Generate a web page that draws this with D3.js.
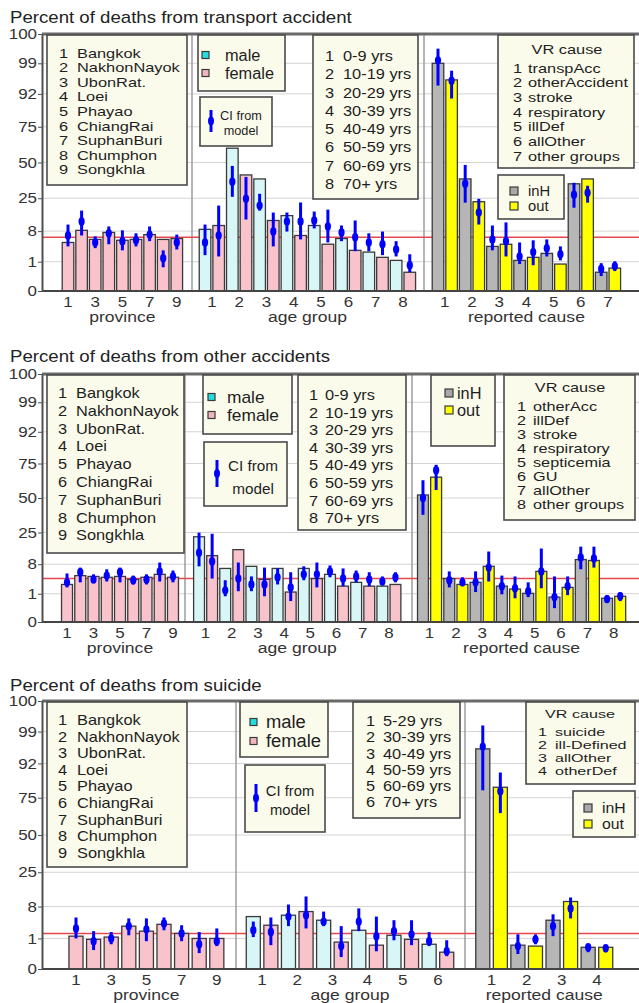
<!DOCTYPE html>
<html><head><meta charset="utf-8">
<script src="https://cdn.jsdelivr.net/npm/d3@7"></script>
<style>
body{margin:0;background:#fff;}
svg{display:block;font-family:"Liberation Sans",Arial,sans-serif;}
</style></head><body>
<svg id="c" width="639" height="1003"></svg>
<script>
// ---------- axis ticks ----------
const yTicks=[0,1,8,25,50,75,92,99,100];
const tickFrac=[0,0.114,0.233,0.361,0.5,0.639,0.767,0.886,1];

// ---------- category labels ----------
const provinces=["Bangkok","NakhonNayok","UbonRat.","Loei","Phayao","ChiangRai","SuphanBuri","Chumphon","Songkhla"];
const ageGroups8=["0-9 yrs","10-19 yrs","20-29 yrs","30-39 yrs","40-49 yrs","50-59 yrs","60-69 yrs","70+ yrs"];
const ageGroups6=["5-29 yrs","30-39 yrs","40-49 yrs","50-59 yrs","60-69 yrs","70+ yrs"];
const causesTransport=["transpAcc","otherAccident","stroke","respiratory","illDef","allOther","other groups"];
const causesOther=["otherAcc","illDef","stroke","respiratory","septicemia","GU","allOther","other groups"];
const causesSuicide=["suicide","ill-Defined","allOther","otherDef"];

// ---------- transport accident ----------
const trAvg=6.6;
const trProv=[5.4,8.4,6.1,7.7,5.9,6.1,7.2,6.1,6.3];
const trProvCI=[[4.5,7.0,11.4],[7.0,13.0,18.6],[4.1,5.4,6.8],[5.0,7.5,10.4],[3.6,5.7,8.4],[4.5,5.9,7.5],[5.7,7.2,10.4],[0.81,1.8,3.6],[3.8,5.4,7.2]];
const trMale=[8.9,60,38.5,16.0,10.9,6.3,3.2,1.3];
const trFemale=[10.9,41.3,13.5,7.0,5.0,3.6,2.0,0.64];
const trMaleCI=[[2.5,5.4,11.4],[26.0,36.5,47.6],[18.6,21.2,28.1],[7.9,13.0,17.6],[9.4,13.5,18.1],[5.7,7.7,10.9],[3.4,5.4,7.5],[2.2,3.8,5.7]];
const trFemaleCI=[[2.2,7.0,21.2],[14.0,24.7,39.9],[4.5,7.9,17.6],[6.1,13.0,22.8],[5.4,10.4,19.1],[3.4,6.6,13.5],[2.5,5.0,7.9],[0.64,0.88,2.7]];
const trInH=[99.0,38.5,4.5,1.3,2.9,35.1,0.64];
const trOut=[95.2,23.2,5.0,2.0,0.92,38.5,0.78];
const trInHCI=[[93.9,99.1,99.5],[22.7,35.1,48.3],[3.6,6.1,10.9],[0.92,2.2,5.4],[2.2,4.1,6.1],[20.1,27.4,35.8],[0.51,0.75,0.95]];
const trOutCI=[[89.6,95.0,97.3],[11.4,17.6,24.7],[2.2,5.7,12.5],[0.88,3.2,5.9],[1.3,2.7,4.5],[22.7,28.8,33.7],[0.68,0.85,1.1]];

// ---------- other accidents ----------
const oaAvg=4.6;
const oaProv=[3.2,5.3,5.1,4.9,5.1,4.4,4.9,5.6,4.9];
const oaProvCI=[[2.5,3.7,5.8],[3.7,6.1,7.2],[3.5,4.4,5.6],[3.9,5.3,6.8],[3.7,6.1,7.2],[3.2,4.2,5.3],[3.2,4.4,5.6],[3.9,6.3,8.9],[3.7,5.1,6.5]];
const oaMale=[22.7,7.0,7.5,7.0,7.0,5.6,3.7,2.8];
const oaFemale=[12.6,15.8,4.4,1.4,4.6,2.8,2.8,3.2];
const oaMaleCI=[[7.5,14.2,24.9],[0.91,1.8,4.2],[1.6,3.2,5.1],[3.2,4.9,7.0],[4.2,5.6,7.5],[4.9,6.3,7.7],[3.7,5.1,6.5],[3.0,3.9,5.1]];
const oaFemaleCI=[[4.6,9.5,24.3],[1.6,4.6,8.9],[0.91,3.2,7.2],[0.74,2.5,6.1],[2.5,5.6,8.9],[2.8,4.6,7.0],[2.8,4.4,6.1],[3.7,4.9,6.1]];
const oaInH=[52.2,4.6,3.7,2.8,1.1,0.88,10.5,0.84];
const oaOut=[65.1,3.2,7.5,2.1,6.3,2.5,10.0,0.91];
const oaInHCI=[[37.8,50,62.9],[2.5,4.2,6.3],[1.4,3.7,6.3],[0.98,2.8,5.3],[0.88,1.6,3.7],[0.49,0.88,5.1],[6.8,11.6,17.4],[0.67,0.81,0.95]];
const oaOutCI=[[55.8,70.1,74.1],[2.8,3.7,4.9],[3.9,7.2,14.8],[0.84,2.3,5.1],[2.3,6.3,16.4],[0.95,2.8,5.1],[7.2,11.1,17.4],[0.74,0.91,1.35]];

// ---------- suicide ----------
const suAvg=2.1;
const suProv=[1.5,0.97,1.3,3.7,2.6,4.1,2.1,1.0,1.0];
const suProvCI=[[1.0,3.2,5.6],[0.62,0.91,2.6],[0.81,1.0,2.4],[1.7,3.7,5.4],[0.91,3.0,5.4],[2.8,4.3,5.6],[0.91,2.1,3.9],[0.52,0.81,2.4],[0.75,0.91,3.2]];
const suMale=[5.8,6.1,5.0,2.8,1.7,0.81];
const suFemale=[3.9,6.9,0.88,0.78,0.97,0.55];
const suMaleCI=[[1.3,2.8,4.7],[3.7,5.8,9.0],[3.7,4.7,6.9],[2.6,4.7,7.6],[0.94,2.6,5.0],[0.75,0.91,2.4]];
const suFemaleCI=[[0.78,2.4,5.6],[3.2,6.1,13.0],[0.39,0.75,3.7],[0.58,1.5,5.8],[0.78,1.9,5.0],[0.42,0.58,0.94]];
const suInH=[95.2,0.78,5.0,0.71];
const suOut=[80.2,0.75,10.5,0.71];
const suInHCI=[[78.7,95.7,99.2],[0.49,0.75,1.9],[1.5,3.7,6.3],[0.55,0.71,0.81]];
const suOutCI=[[64.7,78.2,87.5],[0.81,0.97,1.9],[5.4,7.6,12.5],[0.55,0.68,0.78]];

// ---------- layout ----------
const panels=[
 {title:"Percent of deaths from transport accident",titleY:23,top:34,bottom:291,div:[192,424],
  prov:[61.2,183.6],age:[198.2,416.6],cause:[431.2,621.6],pad:0.15,
  avg:trAvg,d:{prov:trProv,provCI:trProvCI,m:trMale,f:trFemale,mCI:trMaleCI,fCI:trFemaleCI,inH:trInH,out:trOut,inHCI:trInHCI,outCI:trOutCI},
  ages:ageGroups8,causes:causesTransport,
  L:{prov:{b:[47,35,187,185],nx:59,sx:77,y0:53,dy:14.6,fs:13,k:1.26},
     sex:{b:[198,35,285,91],qx:202,q:7,tx:225,y1:55,y2:73,fs:16},
     ci:{b:[200,97,272,146],lx:211,ly1:110,ly2:132,tcx:241,ty1:116,ty2:131,fs:12.5},
     age:{b:[313,35,418,199],nx:325,sx:343,y0:56,dy:18.3,fs:14,k:1.17},
     vr:{b:[498,35,634,168],tx:567,ty:49,nx:513,sx:528,y0:68,dy:14.7,fs:13,k:1.26},
     pl:{b:[498,175,564,219],qx:510,q:8,tx:528,y1:191,y2:206,fs:14.5}}},
 {title:"Percent of deaths from other accidents",titleY:362,top:374,bottom:622,div:[185,412],
  prov:[60.4,179.6],age:[192.5,402],cause:[416.4,626.8],pad:0.17,
  avg:oaAvg,d:{prov:oaProv,provCI:oaProvCI,m:oaMale,f:oaFemale,mCI:oaMaleCI,fCI:oaFemaleCI,inH:oaInH,out:oaOut,inHCI:oaInHCI,outCI:oaOutCI},
  ages:ageGroups8,causes:causesOther,
  L:{prov:{b:[47,375,184,553],nx:58,sx:76,y0:393,dy:17.8,fs:14,k:1.17},
     sex:{b:[203,375,292,434],qx:208,q:7,tx:227,y1:397,y2:415,fs:17},
     ci:{b:[204,442,287,506],lx:217,ly1:460,ly2:487,tcx:253,ty1:466,ty2:489,fs:15},
     age:{b:[298,375,406,530],nx:309,sx:325,y0:395,dy:17.6,fs:14,k:1.17},
     vr:{b:[504,375,635,520],tx:570,ty:388,nx:517,sx:533,y0:407,dy:14,fs:12.5,k:1.3},
     pl:{b:[431,375,495,446],qx:445,q:8,tx:457,y1:393,y2:410,fs:16}}},
 {title:"Percent of deaths from suicide",titleY:691,top:701,bottom:969,div:[236,465],
  prov:[67.2,225.6],age:[244.5,455.5],cause:[474,614.5],pad:0.2,
  avg:suAvg,d:{prov:suProv,provCI:suProvCI,m:suMale,f:suFemale,mCI:suMaleCI,fCI:suFemaleCI,inH:suInH,out:suOut,inHCI:suInHCI,outCI:suOutCI},
  ages:ageGroups6,causes:causesSuicide,
  L:{prov:{b:[47,702,187,867],nx:58,sx:77,y0:720,dy:16.6,fs:14,k:1.17},
     sex:{b:[240,702,328,757],qx:250,q:7,tx:266,y1:722,y2:741,fs:18},
     ci:{b:[245,765,325,832],lx:256,ly1:784,ly2:812,tcx:290,ty1:791,ty2:810,fs:14.5},
     age:{b:[353,702,460,818],nx:366,sx:383,y0:721,dy:16.3,fs:14,k:1.17},
     vr:{b:[526,702,635,784],tx:580,ty:714,nx:538,sx:555,y0:732,dy:13,fs:11.5,k:1.4},
     pl:{b:[573,791,635,837],qx:584,q:8,tx:602,y1:808,y2:824,fs:15.5}}}
];

const C={pink:"#f8c3cb",cyan:"#d9f6f6",gray:"#b6b6b6",yellow:"#ffff00",blue:"#0000ff",
  sqCyan:"#22dede",sqPink:"#f2b6c0",sqGray:"#a8a8a8",edge:"#3a3a3a",legFill:"#fbfbec"};
const SX=1.17;
const svg=d3.select("#c");

function stext(g,x,y,str,o={}){
  return g.append("text")
    .attr("transform",`translate(${x},${y}) scale(${o.sx??SX},1)`)
    .attr("dy",o.dy??"0.35em").attr("text-anchor",o.anchor||"start")
    .style("font-size",(o.fs||14)+"px").attr("fill",o.fill||"#1e1e1e").text(str);
}
function box(g,b){
  g.append("rect").attr("x",b[0]).attr("y",b[1]).attr("width",b[2]-b[0]).attr("height",b[3]-b[1])
   .attr("fill",C.legFill).attr("stroke","#4a4a4a").attr("stroke-width",1.6);
}
function listLegend(g,L,items,title){
  box(g,L.b);
  if(title) stext(g,L.tx,L.ty,title,{anchor:"middle",fs:L.fs,sx:L.k});
  const rows=g.append("g").selectAll("g").data(items).join("g");
  rows.each(function(s,i){
    const r=d3.select(this);
    stext(r,L.nx,L.y0+i*L.dy,String(i+1),{fs:L.fs,sx:L.k});
    stext(r,L.sx,L.y0+i*L.dy,s,{fs:L.fs,sx:L.k});
  });
}
function swatchLegend(g,L,labels,fills){
  box(g,L.b);
  [L.y1,L.y2].forEach((yy,i)=>{
    g.append("rect").attr("x",L.qx).attr("y",yy-L.q/2).attr("width",L.q).attr("height",L.q)
     .attr("fill",fills[i]).attr("stroke",C.edge).attr("stroke-width",1.2);
    stext(g,L.tx,yy,labels[i],{fs:L.fs,sx:1.02});
  });
}
function ciLegend(g,L){
  box(g,L.b);
  g.append("line").attr("x1",L.lx).attr("x2",L.lx).attr("y1",L.ly1).attr("y2",L.ly2)
   .attr("stroke",C.blue).attr("stroke-width",3);
  g.append("ellipse").attr("cx",L.lx).attr("cy",(L.ly1+L.ly2)/2).attr("rx",3).attr("ry",4.2).attr("fill",C.blue);
  stext(g,L.tcx,L.ty1,"CI from",{anchor:"middle",fs:L.fs,sx:1.02});
  stext(g,L.tcx,L.ty2,"model",{anchor:"middle",fs:L.fs,sx:1.02});
}
function styleAxisText(sel,fs){
  sel.selectAll("text").attr("transform",`scale(${SX},1)`).style("font-size",fs+"px")
    .attr("fill","#333").style("font-family",'"Liberation Sans",Arial,sans-serif');
}

function drawPanel(P){
  const g=svg.append("g");
  const x0=42,x1=639;
  const y=d3.scaleLinear().domain(yTicks).range(tickFrac.map(f=>P.bottom-f*(P.bottom-P.top)));

  // grid
  g.append("g").selectAll("line").data(yTicks.slice(1,-1)).join("line")
    .attr("x1",x0).attr("x2",x1).attr("y1",d=>y(d)).attr("y2",d=>y(d))
    .attr("stroke","#d4d4d4").attr("stroke-width",1);
  // dividers
  g.append("g").selectAll("line").data(P.div).join("line")
    .attr("x1",d=>d).attr("x2",d=>d).attr("y1",P.top).attr("y2",P.bottom)
    .attr("stroke","#9c9c9c").attr("stroke-width",1.5);
  // average line
  g.append("line").attr("x1",x0).attr("x2",x1).attr("y1",y(P.avg)).attr("y2",y(P.avg))
    .attr("stroke","#e8474c").attr("stroke-width",1.6);

  // scales
  const xp=d3.scaleBand().domain(P.d.prov.map((_,i)=>String(i+1))).range(P.prov)
    .paddingInner(P.pad).paddingOuter(P.pad/2);
  const xa=d3.scaleBand().domain(P.ages.map((_,i)=>String(i+1))).range(P.age);
  const xai=d3.scaleBand().domain(["m","f"]).range([0,xa.bandwidth()]).paddingInner(P.pad).paddingOuter(P.pad/2);
  const xc=d3.scaleBand().domain(P.causes.map((_,i)=>String(i+1))).range(P.cause);
  const xci=d3.scaleBand().domain(["inH","out"]).range([0,xc.bandwidth()]).paddingInner(P.pad).paddingOuter(P.pad/2);

  const bars=[];
  P.d.prov.forEach((v,i)=>bars.push({x:xp(String(i+1)),w:xp.bandwidth(),v,ci:P.d.provCI[i],fill:C.pink}));
  P.ages.forEach((_,i)=>{
    const k=String(i+1);
    bars.push({x:xa(k)+xai("m"),w:xai.bandwidth(),v:P.d.m[i],ci:P.d.mCI[i],fill:C.cyan});
    bars.push({x:xa(k)+xai("f"),w:xai.bandwidth(),v:P.d.f[i],ci:P.d.fCI[i],fill:C.pink});
  });
  P.causes.forEach((_,i)=>{
    const k=String(i+1);
    bars.push({x:xc(k)+xci("inH"),w:xci.bandwidth(),v:P.d.inH[i],ci:P.d.inHCI[i],fill:C.gray});
    bars.push({x:xc(k)+xci("out"),w:xci.bandwidth(),v:P.d.out[i],ci:P.d.outCI[i],fill:C.yellow});
  });

  g.append("g").selectAll("rect").data(bars).join("rect")
    .attr("x",d=>d.x).attr("width",d=>d.w).attr("y",d=>y(d.v)).attr("height",d=>y(0)-y(d.v))
    .attr("fill",d=>d.fill).attr("stroke",C.edge).attr("stroke-width",1.3);

  const ci=g.append("g").selectAll("g").data(bars).join("g");
  ci.append("line").attr("x1",d=>d.x+d.w/2).attr("x2",d=>d.x+d.w/2)
    .attr("y1",d=>y(d.ci[0])).attr("y2",d=>y(d.ci[2]))
    .attr("stroke",C.blue).attr("stroke-width",3);
  ci.append("ellipse").attr("cx",d=>d.x+d.w/2).attr("cy",d=>y(d.ci[1]))
    .attr("rx",3.1).attr("ry",4.2).attr("fill",C.blue);

  // frame lines
  g.append("line").attr("x1",x0).attr("x2",x1).attr("y1",P.top).attr("y2",P.top)
    .attr("stroke","#6a6a6a").attr("stroke-width",3);
  g.append("line").attr("x1",x0).attr("x2",x1).attr("y1",P.bottom).attr("y2",P.bottom)
    .attr("stroke","#444").attr("stroke-width",2);

  // y axis
  const ya=g.append("g").attr("transform",`translate(${x0},0)`)
    .call(d3.axisLeft(y).tickValues(yTicks).tickSize(4).tickSizeOuter(0).tickFormat(d3.format("d")));
  ya.select(".domain").attr("stroke","#505050").attr("stroke-width",2);
  ya.selectAll(".tick line").attr("stroke","#505050");
  ya.selectAll("text").attr("x",-5/SX);
  styleAxisText(ya,14.5);

  // x axes
  const ax=(scale,vals)=>{
    const a=d3.axisBottom(scale).tickSize(0).tickPadding(6);
    if(vals) a.tickValues(vals);
    const s=g.append("g").attr("transform",`translate(0,${P.bottom})`).call(a);
    s.select(".domain").remove();
    styleAxisText(s,14.5);
  };
  ax(xp,xp.domain().filter((d,i)=>i%2===0));
  ax(xa);
  ax(xc);
  [["province",P.prov],["age group",P.age],["reported cause",P.cause]].forEach(([t,r])=>
    stext(g,(r[0]+r[1])/2,P.bottom+26,t,{anchor:"middle",fs:15,fill:"#333"}));

  // title
  stext(g,10,P.titleY,P.title,{fs:16,dy:0,sx:1.165,fill:"#222"});

  // legends
  const lg=g.append("g");
  listLegend(lg,P.L.prov,provinces);
  swatchLegend(lg,P.L.sex,["male","female"],[C.sqCyan,C.sqPink]);
  ciLegend(lg,P.L.ci);
  listLegend(lg,P.L.age,P.ages);
  listLegend(lg,P.L.vr,P.causes,"VR cause");
  swatchLegend(lg,P.L.pl,["inH","out"],[C.sqGray,C.yellow]);
}

panels.forEach(drawPanel);
</script>
</body></html>
